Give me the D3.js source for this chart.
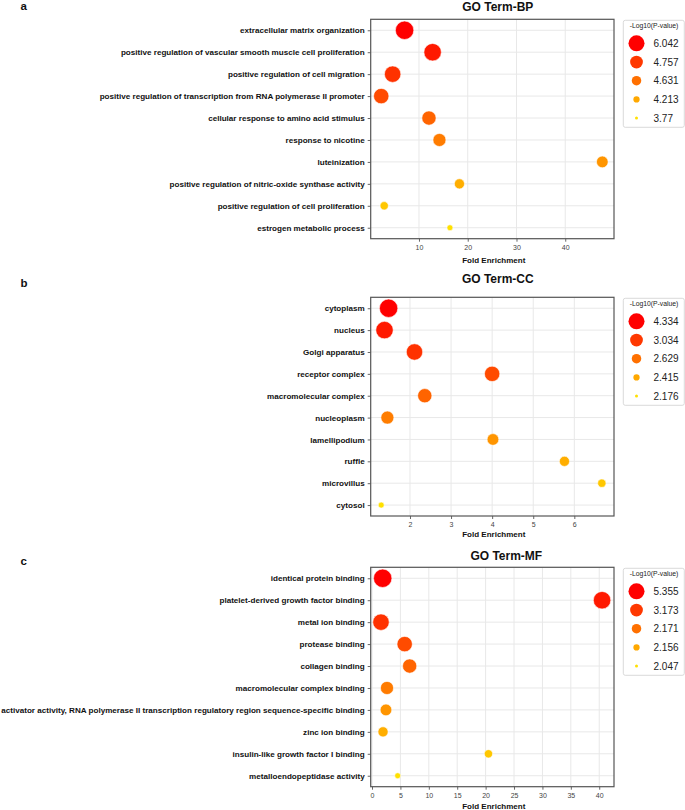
<!DOCTYPE html>
<html>
<head>
<meta charset="utf-8">
<script src="https://cdn.jsdelivr.net/npm/d3@7"></script>
<style>
  html, body { margin: 0; padding: 0; background: #fff; }
  svg { display: block; font-family: "Liberation Sans", Arial, sans-serif; }
</style>
</head>
<body>
<svg id="chart" width="685" height="810"></svg>
<script>
// ---------------- DATA ----------------
const bpTerms = [
  "extracellular matrix organization",
  "positive regulation of vascular smooth muscle cell proliferation",
  "positive regulation of cell migration",
  "positive regulation of transcription from RNA polymerase II promoter",
  "cellular response to amino acid stimulus",
  "response to nicotine",
  "luteinization",
  "positive regulation of nitric-oxide synthase activity",
  "positive regulation of cell proliferation",
  "estrogen metabolic process"
];
const bpFold = [7.05, 12.8, 4.6, 2.26, 12.05, 14.2, 47.6, 18.3, 2.87, 16.35];
const bpLogP = [6.042, 5.471, 4.900, 4.715, 4.659, 4.538, 4.352, 4.164, 3.967, 3.770];
const bpLegend = [6.042, 4.757, 4.631, 4.213, 3.77];
const bpTicks = [10, 20, 30, 40];

const ccTerms = [
  "cytoplasm", "nucleus", "Golgi apparatus", "receptor complex",
  "macromolecular complex", "nucleoplasm", "lamellipodium", "ruffle",
  "microvillus", "cytosol"
];
const ccFold = [1.48, 1.38, 2.11, 4.00, 2.36, 1.45, 4.02, 5.76, 6.67, 1.30];
const ccLogP = [4.334, 3.757, 3.180, 2.899, 2.719, 2.581, 2.486, 2.388, 2.282, 2.176];
const ccLegend = [4.334, 3.034, 2.629, 2.415, 2.176];
const ccTicks = [2, 3, 4, 5, 6];

const mfTerms = [
  "identical protein binding",
  "platelet-derived growth factor binding",
  "metal ion binding",
  "protease binding",
  "collagen binding",
  "macromolecular complex binding",
  "activator activity, RNA polymerase II transcription regulatory region sequence-specific binding",
  "zinc ion binding",
  "insulin-like growth factor I binding",
  "metalloendopeptidase activity"
];
const mfFold = [1.88, 40.5, 1.58, 5.75, 6.63, 2.64, 2.46, 1.94, 20.5, 4.52];
const mfLogP = [5.355, 4.385, 3.415, 2.839, 2.394, 2.168, 2.161, 2.144, 2.095, 2.047];
const mfLegend = [5.355, 3.173, 2.171, 2.156, 2.047];
const mfTicks = [0, 5, 10, 15, 20, 25, 30, 35, 40];

// ---------------- LAYOUT ----------------
const panels = [
  { letter: "a", title: "GO Term-BP", terms: bpTerms, fold: bpFold, logp: bpLogP, legend: bpLegend, ticks: bpTicks,
    xDomain: [0.1, 50], top: 19.3, bottom: 238.7, titleX: 497.8, titleY: 10.8, letterY: 10.3, xlabY: 262.5 },
  { letter: "b", title: "GO Term-CC", terms: ccTerms, fold: ccFold, logp: ccLogP, legend: ccLegend, ticks: ccTicks,
    xDomain: [1.044, 6.966], top: 297.3, bottom: 516, titleX: 497.8, titleY: 283.3, letterY: 287.3, xlabY: 536.5 },
  { letter: "c", title: "GO Term-MF", terms: mfTerms, fold: mfFold, logp: mfLogP, legend: mfLegend, ticks: mfTicks,
    xDomain: [-0.23, 42.6], top: 567.3, bottom: 786.7, titleX: 506.3, titleY: 559.5, letterY: 564.5, xlabY: 809 }
];

const left = 370.7, right = 614;
const svg = d3.select("#chart");

const color = d3.interpolateRgb("#ffe000", "#ff0000");
const rPlot = d3.scaleRadial().domain([0, 1]).range([3, 9.2]);
const rLeg = d3.scaleLinear().domain([0, 1]).range([1.5, 8]);

panels.forEach(p => {
  const g = svg.append("g");
  const x = d3.scaleLinear().domain(p.xDomain).range([left, right]);
  const y = d3.scalePoint().domain(p.terms).range([p.top, p.bottom]).padding(0.5);
  const legAsc = p.legend.slice().sort((a, b) => a - b);
  const t = d3.scaleLinear().domain(legAsc).range([0, 0.25, 0.5, 0.75, 1]).clamp(true);

  // grid
  g.append("g").selectAll("line").data(p.ticks).join("line")
    .attr("x1", d => x(d)).attr("x2", d => x(d))
    .attr("y1", p.top).attr("y2", p.bottom)
    .attr("stroke", "#e8e8e8").attr("stroke-width", 1);
  g.append("g").selectAll("line").data(p.terms).join("line")
    .attr("x1", left).attr("x2", right)
    .attr("y1", d => y(d)).attr("y2", d => y(d))
    .attr("stroke", "#e8e8e8").attr("stroke-width", 1);

  // axes
  const xa = g.append("g").attr("transform", `translate(0,${p.bottom})`)
    .call(d3.axisBottom(x).tickValues(p.ticks).tickFormat(d3.format("d")).tickSize(3).tickPadding(3));
  xa.select(".domain").remove();
  xa.selectAll("line").attr("stroke", "#666");
  xa.selectAll("text").attr("font-size", 7).attr("fill", "#444").attr("font-family", "Liberation Sans, Arial, sans-serif");

  const ya = g.append("g").attr("transform", `translate(${left},0)`)
    .call(d3.axisLeft(y).tickSize(3).tickPadding(3));
  ya.select(".domain").remove();
  ya.selectAll("line").attr("stroke", "#666");
  ya.selectAll("text").attr("font-size", 8.1).attr("font-weight", "bold").attr("fill", "#111")
    .attr("font-family", "Liberation Sans, Arial, sans-serif");

  // points
  const pts = p.terms.map((term, i) => ({ term, fold: p.fold[i], logp: p.logp[i] }));
  g.append("g").selectAll("circle").data(pts).join("circle")
    .attr("cx", d => x(d.fold)).attr("cy", d => y(d.term))
    .attr("r", d => rPlot(t(d.logp)))
    .attr("fill", d => color(t(d.logp)))
    .attr("stroke", "#fff").attr("stroke-width", 0.6);

  // frame
  g.append("rect").attr("x", left).attr("y", p.top)
    .attr("width", right - left).attr("height", p.bottom - p.top)
    .attr("fill", "none").attr("stroke", "#555").attr("stroke-width", 1.2);

  // title, letter, x label
  g.append("text").attr("x", p.titleX).attr("y", p.titleY).attr("text-anchor", "middle")
    .attr("font-size", 12).attr("font-weight", "bold").attr("fill", "#111").text(p.title);
  g.append("text").attr("x", 20.5).attr("y", p.letterY)
    .attr("font-size", 11.5).attr("font-weight", "bold").attr("fill", "#111").text(p.letter);
  g.append("text").attr("x", 493.8).attr("y", p.xlabY).attr("text-anchor", "middle")
    .attr("font-size", 8).attr("font-weight", "bold").attr("fill", "#111").text("Fold Enrichment");

  // legend
  const lt = p.top + 1;
  const lg = g.append("g");
  lg.append("rect").attr("x", 623.3).attr("y", lt).attr("width", 61).attr("height", 107)
    .attr("rx", 2).attr("fill", "#fff").attr("stroke", "#cfcfcf").attr("stroke-width", 0.8);
  lg.append("text").attr("x", 654).attr("y", lt + 7.8).attr("text-anchor", "middle")
    .attr("font-size", 6.8).attr("fill", "#222").text("-Log10(P-value)");
  p.legend.forEach((v, i) => {
    const cy = lt + 23 + i * 18.7;
    lg.append("circle").attr("cx", 636.5).attr("cy", cy).attr("r", rLeg(t(v))).attr("fill", color(t(v)));
    lg.append("text").attr("x", 653.5).attr("y", cy + 3.6).attr("font-size", 10).attr("fill", "#222").text(String(v));
  });
});
</script>
</body>
</html>
